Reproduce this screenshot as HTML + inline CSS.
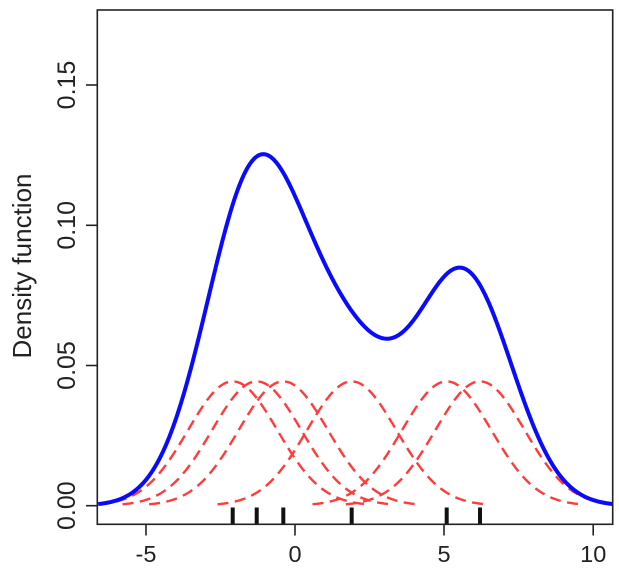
<!DOCTYPE html>
<html><head><meta charset="utf-8"><style>
html,body{margin:0;padding:0;background:#fff;}
svg{display:block;}
text{font-family:"Liberation Sans",Arial,sans-serif;fill:#222;}
</style></head><body>
<svg id="s" width="619" height="580" viewBox="0 0 619 580" xmlns="http://www.w3.org/2000/svg">
<defs><clipPath id="c"><rect x="97.5" y="10" width="515" height="514.5"/></clipPath></defs>
<g id="red" clip-path="url(#c)" fill="none" stroke="#ff3b3b" stroke-width="2.4" stroke-dasharray="11 6.5"></g>
<path id="blue" clip-path="url(#c)" fill="none" stroke="#0a0aff" stroke-width="4" stroke-linejoin="round"/>
<g stroke="#111" stroke-width="4" id="rug"></g>
<rect x="97.3" y="10" width="515.4" height="514.3" fill="none" stroke="#222" stroke-width="1.6"/>
<g stroke="#222" stroke-width="1.6">
<line x1="146" y1="524.3" x2="146" y2="535.5"/>
<line x1="295" y1="524.3" x2="295" y2="535.5"/>
<line x1="444" y1="524.3" x2="444" y2="535.5"/>
<line x1="593.2" y1="524.3" x2="593.2" y2="535.5"/>
<line x1="86" y1="505.7" x2="97.3" y2="505.7"/>
<line x1="86" y1="365.5" x2="97.3" y2="365.5"/>
<line x1="86" y1="225.3" x2="97.3" y2="225.3"/>
<line x1="86" y1="85" x2="97.3" y2="85"/>
</g>
<g font-size="23.5" text-anchor="middle">
<text x="146" y="562">-5</text>
<text x="295" y="562">0</text>
<text x="444" y="562">5</text>
<text x="593.2" y="562">10</text>
</g>
<g font-size="25" text-anchor="middle">
<text transform="translate(75,505.7) rotate(-90)">0.00</text>
<text transform="translate(75,365.5) rotate(-90)">0.05</text>
<text transform="translate(75,225.3) rotate(-90)">0.10</text>
<text transform="translate(75,85) rotate(-90)">0.15</text>
</g>
<text font-size="26" text-anchor="middle" transform="translate(31,266) rotate(-90)">Density function</text>
</svg>
<script>
(function(){
var X0=295,KX=29.82,Y0=505.7,KY=2804.7,h=1.5;
var pts=[-2.089,-1.284,-0.392,1.901,5.087,6.204];
var n=pts.length,c=1/(n*h*Math.sqrt(2*Math.PI));
function px(x){return X0+KX*x;} function py(y){return Y0-KY*y;}
var red=document.getElementById('red'),ns='http://www.w3.org/2000/svg';
pts.forEach(function(p){
  var d='';
  for(var i=0;i<=120;i++){var x=p-3*h+6*h*i/120;var z=(x-p)/h;var y=c*Math.exp(-z*z/2);
    d+=(i?'L':'M')+px(x).toFixed(2)+','+py(y).toFixed(2);}
  var e=document.createElementNS(ns,'path');e.setAttribute('d',d);red.appendChild(e);
});
var d='';var a=-6.6,b=10.75;
for(var i=0;i<=400;i++){var x=a+(b-a)*i/400;var y=0;
  pts.forEach(function(p){var z=(x-p)/h;y+=c*Math.exp(-z*z/2);});
  d+=(i?'L':'M')+px(x).toFixed(2)+','+py(y).toFixed(2);}
document.getElementById('blue').setAttribute('d',d);
var rug=document.getElementById('rug');
pts.forEach(function(p){var e=document.createElementNS(ns,'line');
  e.setAttribute('x1',px(p));e.setAttribute('x2',px(p));e.setAttribute('y1',507.5);e.setAttribute('y2',524.3);rug.appendChild(e);});
})();
</script>
</body></html>
